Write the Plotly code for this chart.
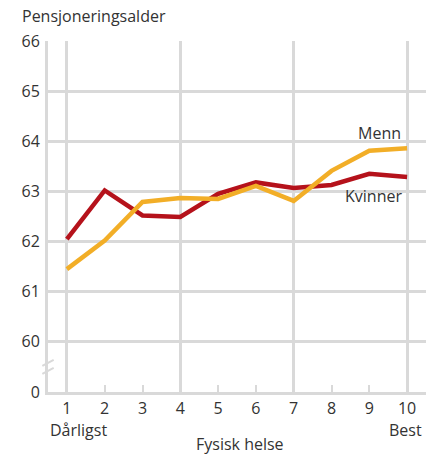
import plotly.graph_objects as go

# Data
helse = [1, 2, 3, 4, 5, 6, 7, 8, 9, 10]
kvinner = [62.05, 63.02, 62.52, 62.49, 62.95, 63.18, 63.07, 63.13, 63.35, 63.29]
menn = [61.45, 62.02, 62.79, 62.87, 62.85, 63.11, 62.81, 63.41, 63.81, 63.86]
y_tickvals = [59, 60, 61, 62, 63, 64, 65, 66]
y_ticktext = ["0", "60", "61", "62", "63", "64", "65", "66"]
x_ticktext = ["1", "2", "3", "4", "5", "6", "7", "8", "9", "10"]

RED = "#b5121b"
ORANGE = "#f2ae27"
GRID = "#d9d9d9"
TXT = "#333333"
FONT = "Open Sans"

fig = go.Figure()
fig.add_trace(go.Scatter(x=helse, y=kvinner, mode="lines", name="Kvinner",
                         line=dict(color=RED, width=4.5)))
fig.add_trace(go.Scatter(x=helse, y=menn, mode="lines", name="Menn",
                         line=dict(color=ORANGE, width=4.5)))
# invisible trace to activate grid axis
fig.add_trace(go.Scatter(x=[1], y=[59], xaxis="x2", mode="markers",
                         marker=dict(opacity=0), showlegend=False, hoverinfo="skip"))

fig.update_layout(
    width=439, height=459,
    margin=dict(l=48, r=13, t=41, b=67, autoexpand=False),
    paper_bgcolor="white", plot_bgcolor="white",
    showlegend=False,
    font=dict(family=FONT, size=16, color=TXT),
    xaxis=dict(range=[0.5, 10.5], tickvals=helse, ticktext=x_ticktext, automargin=False,
               showgrid=False, zeroline=False, showline=True, linecolor=GRID, linewidth=3,
               ticks="inside", ticklen=7, tickwidth=2, tickcolor=GRID,
               tickfont=dict(size=16, color=TXT), fixedrange=True),
    xaxis2=dict(range=[0.5, 10.5], overlaying="x", tickvals=[1, 4, 7, 10, 10.5],
                automargin=False,
                showgrid=True, gridcolor=GRID, gridwidth=2.5, showticklabels=False,
                zeroline=False, showline=False, ticks=""),
    yaxis=dict(range=[59, 66], tickvals=y_tickvals, ticktext=y_ticktext, automargin=False,
               showgrid=True, gridcolor=GRID, gridwidth=2.5, zeroline=False,
               showline=True, linecolor=GRID, linewidth=3, ticks="",
               tickfont=dict(size=16, color=TXT), ticklabelstandoff=2),
)

# axis break marks
for yy in [59.42, 59.58]:
    fig.add_shape(type="line", xref="paper", yref="y", x0=-0.015, x1=0.015,
                  y0=yy - 0.06, y1=yy + 0.06, line=dict(color=GRID, width=2))

ann = dict(showarrow=False, font=dict(family=FONT, size=16, color=TXT))
fig.add_annotation(text="Pensjoneringsalder", xref="paper", yref="paper",
                   x=-0.074, y=1.071, xanchor="left", yanchor="middle", **ann)
fig.add_annotation(text="Menn", xref="x", yref="y", x=9.9, y=64.16,
                   xanchor="right", yanchor="middle", **ann)
fig.add_annotation(text="Kvinner", xref="x", yref="y", x=9.92, y=62.9,
                   xanchor="right", yanchor="middle", **ann)
fig.add_annotation(text="Dårligst", xref="paper", yref="paper", x=0.0, y=-0.108,
                   xanchor="left", yanchor="middle", **ann)
fig.add_annotation(text="Best", xref="paper", yref="paper", x=0.995, y=-0.108,
                   xanchor="right", yanchor="middle", **ann)
fig.add_annotation(text="Fysisk helse", xref="paper", yref="paper", x=0.508, y=-0.148,
                   xanchor="center", yanchor="middle", **ann)

fig.write_html("out.html", config={"displayModeBar": False},
               post_script="document.body.style.margin='0';document.body.style.overflow='hidden';")
